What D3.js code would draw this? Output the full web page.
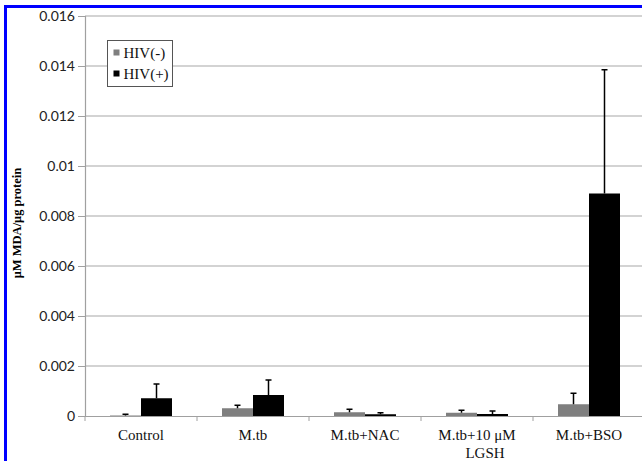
<!DOCTYPE html>
<html>
<head>
<meta charset="utf-8">
<script src="https://cdn.jsdelivr.net/npm/d3@7"></script>
<style>
  body { margin: 0; background: #fff; }
  svg { display: block; }
</style>
</head>
<body>
<div id="chart"></div>
<script>
// data
const categories = ["Control", "M.tb", "M.tb+NAC", "M.tb+10 μM LGSH", "M.tb+BSO"];
const seriesNames = ["HIV(-)", "HIV(+)"];
const hivNeg = [0.00002, 0.00031, 0.00015, 0.00013, 0.00047];
const hivPos = [0.00071, 0.00084, 0.00007, 0.00008, 0.0089];
const hivNegErr = [0.00005, 0.00012, 0.00012, 0.0001, 0.00044];
const hivPosErr = [0.00057, 0.0006, 0.00006, 0.00012, 0.00495];
const yTicks = [0, 0.002, 0.004, 0.006, 0.008, 0.01, 0.012, 0.014, 0.016];
const colors = ["#7f7f7f", "#000000"];

const W = 642, H = 461;
const margin = {top: 16, left: 85};
const plotW = 560, plotH = 400;

const svg = d3.select("#chart").append("svg")
  .attr("width", W).attr("height", H);

// blue frame (cropped at right/bottom)
svg.append("rect")
  .attr("x", 5.5).attr("y", 6.5)
  .attr("width", 700).attr("height", 500)
  .attr("fill", "none").attr("stroke", "#0000ff").attr("stroke-width", 3);

const g = svg.append("g").attr("transform", `translate(${margin.left},${margin.top})`);

const x = d3.scaleBand().domain(categories).range([0, plotW]);
const sub = d3.scaleBand().domain(seriesNames).range([25, 87]);
const y = d3.scaleLinear().domain([0, 0.016]).range([plotH, 0]);

// gridlines
g.append("g").selectAll("line")
  .data(yTicks.slice(1))
  .join("line")
  .attr("x1", 0).attr("x2", plotW)
  .attr("y1", d => y(d)).attr("y2", d => y(d))
  .attr("stroke", "#c4c4c4").attr("stroke-width", 1.5);

// y axis
const yAxis = g.append("g")
  .call(d3.axisLeft(y).tickValues(yTicks).tickFormat(d => d === 0 ? "0" : String(+d.toFixed(3))).tickSize(7).tickPadding(3));
yAxis.select(".domain").attr("stroke", "#a0a0a0").attr("stroke-width", 1.2);
yAxis.selectAll(".tick line").attr("stroke", "#a0a0a0");
yAxis.selectAll(".tick text")
  .attr("fill", "#222").attr("font-family", "Lato, 'Open Sans', sans-serif").attr("font-size", 14);

// x axis
const xAxis = g.append("g").attr("transform", `translate(0,${plotH})`)
  .call(d3.axisBottom(x).tickSize(0).tickFormat(""));
xAxis.select(".domain").attr("stroke", "#a0a0a0").attr("stroke-width", 1.2);
g.append("g").selectAll("line")
  .data(d3.range(categories.length + 1))
  .join("line")
  .attr("x1", i => i * x.step()).attr("x2", i => i * x.step())
  .attr("y1", plotH).attr("y2", plotH + 5)
  .attr("stroke", "#a0a0a0");

// category labels
const labelG = g.append("g").attr("font-family", "'Liberation Serif', 'Times New Roman', serif")
  .attr("font-size", 15).attr("fill", "#111");
categories.forEach(c => {
  const cx = x(c) + x.bandwidth() / 2;
  if (c === "M.tb+10 μM LGSH") {
    labelG.append("text").attr("x", cx).attr("y", plotH + 24).attr("text-anchor", "middle").text("M.tb+10 μM");
    labelG.append("text").attr("x", cx + 8).attr("y", plotH + 42).attr("text-anchor", "middle").text("LGSH");
  } else {
    labelG.append("text").attr("x", cx).attr("y", plotH + 24).attr("text-anchor", "middle").text(c);
  }
});

// bars
const rows = categories.map((c, i) => ({
  cat: c,
  vals: [
    {s: seriesNames[0], v: hivNeg[i], e: hivNegErr[i]},
    {s: seriesNames[1], v: hivPos[i], e: hivPosErr[i]}
  ]
}));

const groups = g.append("g").selectAll("g")
  .data(rows)
  .join("g")
  .attr("transform", d => `translate(${x(d.cat)},0)`);

groups.selectAll("rect")
  .data(d => d.vals)
  .join("rect")
  .attr("x", d => sub(d.s))
  .attr("width", sub.bandwidth())
  .attr("y", d => y(d.v))
  .attr("height", d => plotH - y(d.v))
  .attr("fill", (d, i) => colors[i]);

// error bars
groups.selectAll("line.err")
  .data(d => d.vals)
  .join("line")
  .attr("class", "err")
  .attr("x1", d => sub(d.s) + sub.bandwidth() / 2)
  .attr("x2", d => sub(d.s) + sub.bandwidth() / 2)
  .attr("y1", d => y(d.v))
  .attr("y2", d => y(d.v + d.e))
  .attr("stroke", "#000").attr("stroke-width", 1.5);
groups.selectAll("line.cap")
  .data(d => d.vals)
  .join("line")
  .attr("class", "cap")
  .attr("x1", d => sub(d.s) + sub.bandwidth() / 2 - 3)
  .attr("x2", d => sub(d.s) + sub.bandwidth() / 2 + 3)
  .attr("y1", d => y(d.v + d.e))
  .attr("y2", d => y(d.v + d.e))
  .attr("stroke", "#000").attr("stroke-width", 1.5);

// y title
svg.append("text")
  .attr("transform", "translate(21,223) rotate(-90)")
  .attr("text-anchor", "middle")
  .attr("font-family", "'Liberation Serif', 'Times New Roman', serif")
  .attr("font-weight", "bold").attr("font-size", 12.5)
  .text("μM MDA/μg protein");

// legend
const leg = svg.append("g").attr("transform", "translate(107.5,40.5)");
leg.append("rect").attr("width", 65).attr("height", 46)
  .attr("fill", "#fff").attr("stroke", "#555").attr("stroke-width", 1);
seriesNames.forEach((s, i) => {
  const row = leg.append("g").attr("transform", `translate(6,${12 + i * 21})`);
  row.append("rect").attr("y", -3).attr("width", 6).attr("height", 6).attr("fill", colors[i]);
  row.append("text").attr("x", 10).attr("y", 5)
    .attr("font-family", "'Liberation Serif', 'Times New Roman', serif")
    .attr("font-size", 15).attr("fill", "#111").text(s);
});
</script>
</body>
</html>
